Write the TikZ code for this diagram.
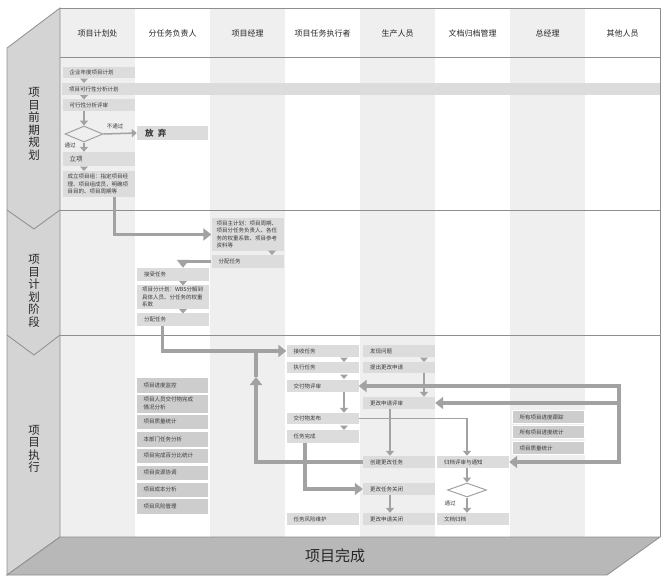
\documentclass[tikz,border=0pt]{standalone}
\usepackage{fontspec}
\setmainfont{Noto Sans CJK SC}
\usetikzlibrary{arrows.meta,shapes.geometric}
\definecolor{colgray}{HTML}{EFEFEF}
\definecolor{boxgray}{HTML}{DCDCDC}
\definecolor{listgray}{HTML}{CDCDCD}
\definecolor{sidegray}{HTML}{D4D4D4}
\definecolor{basegray}{HTML}{B8B8B8}
\definecolor{rulegray}{HTML}{8E8E8E}
\definecolor{flowgray}{HTML}{A2A2A2}
\definecolor{txtgray}{HTML}{3A3A3A}
\tikzset{
  box/.style={fill=boxgray, text width=58pt, inner xsep=7pt, inner ysep=1pt, align=left,
    font=\fontsize{5.5}{7.5}\selectfont, text=txtgray},
  widebox/.style={box, text width=62pt, inner xsep=5pt},
  listbox/.style={box, fill=listgray, draw=white, line width=0.8pt},
  thin/.style={draw=flowgray, line width=1.5pt, -{Triangle[width=8pt,length=5pt]}},
  thick/.style={draw=flowgray, line width=3.5pt, -{Triangle[width=12pt,length=8pt]}},
  decision/.style={diamond, draw=flowgray, line width=1pt, minimum width=38pt, minimum height=16pt, inner sep=0pt},
  phase/.style={align=center, font=\fontsize{11.5}{12.5}\selectfont, text=black!85},
  head/.style={font=\fontsize{8}{10}\selectfont, text=black!85},
  tiny/.style={font=\fontsize{5.5}{7}\selectfont, text=txtgray},
}
\begin{document}
\begin{tikzpicture}[x=1pt,y=-1pt]
\useasboundingbox (0,0) rectangle (670,584);
% lanes and frame
\foreach \cx in {60,210,360,510} {\fill[colgray] (\cx,8) rectangle ++(75,529);}
\draw[rulegray, line width=0.8pt] (60,8) -- (660,8) -- (660,537);
\foreach \ly in {57,210,335} {\draw[rulegray, line width=0.8pt] (60,\ly) -- (660,\ly);}
\filldraw[fill=sidegray, draw=rulegray, line width=0.8pt] (60,8) -- (7,48) -- (7,575) -- (60,537) -- cycle;
\filldraw[fill=basegray, draw=rulegray, line width=0.8pt] (60,537) -- (660,537) -- (607,575) -- (7,575) -- cycle;
\draw[rulegray, line width=0.8pt] (7,210) -- (34,229) -- (60,210);
\draw[rulegray, line width=0.8pt] (7,335) -- (34,355) -- (60,335);
\foreach \i/\t in {1/项目计划处, 2/分任务负责人, 3/项目经理, 4/项目任务执行者, 5/生产人员, 6/文档归档管理, 7/总经理, 8/其他人员}
  {\node[head] (h\i) at (22.5+75*\i,33) {\t};}
\node[phase] (ph1) at (34,124) {项\\目\\前\\期\\规\\划};
\node[phase] (ph2) at (34,291) {项\\目\\计\\划\\阶\\段};
\node[phase] (ph3) at (34,449) {项\\目\\执\\行};
\node[font=\fontsize{15}{16}\selectfont, text=black!85] (finish) at (335,556) {项目完成};
% early planning
\node[box, minimum height=11pt] (annual) at (98.5,72.5) {企业年度项目计划};
\node[box, text width=584pt, minimum height=12pt] (feas) at (361,89) {项目可行性分析计划};
\node[box, minimum height=12pt] (review) at (98.5,105) {可行性分析评审};
\node[decision] (dec1) at (84,134) {};
\node[box, text width=55pt, inner xsep=8pt, minimum height=14pt, font=\fontsize{8.5}{9}\selectfont] (giveup) at (172.5,133) {\textbf{放\enspace 弃}};
\node[box, minimum height=14pt, font=\fontsize{6.5}{7.5}\selectfont] (setup) at (98.5,159) {立项};
\node[widebox, minimum height=26pt] (team) at (98.5,184) {成立项目组：指定项目经\\理、项目组成员，明确项\\目目的、项目周期等};
\node[tiny] (nopass) at (115,126) {不通过};
\node[tiny] (pass1) at (70,145) {通过};
% planning
\node[widebox, minimum height=33pt] (master) at (247.5,234.5) {项目主计划：项目周期、\\项目分任务负责人、各任\\务的权重系数、项目参考\\资料等};
\node[box, minimum height=13pt] (assignA) at (247.5,261.5) {分配任务};
\node[box, minimum height=13pt] (accept) at (173,274.5) {接受任务};
\node[widebox, minimum height=24pt] (subplan) at (173,297) {项目分计划：WBS分解到\\具体人员、分任务的权重\\系数};
\node[box, minimum height=13pt] (assignB) at (173,319.5) {分配任务};
% execution
\node[box, minimum height=12pt] (recv) at (322.5,351) {接收任务};
\node[box, minimum height=11pt] (exec) at (322.5,367.5) {执行任务};
\node[box, minimum height=12pt] (dreview) at (322.5,386) {交付物评审};
\node[box, minimum height=11pt] (dpub) at (322.5,418.5) {交付物发布};
\node[box, minimum height=13pt] (done) at (322.5,436.5) {任务完成};
\node[box, minimum height=12pt] (riskm) at (322.5,519) {任务风险维护};
\node[box, minimum height=12pt] (found) at (399,351) {发现问题};
\node[box, minimum height=11pt] (chreq) at (399,367.5) {提出更改申请};
\node[box, minimum height=12pt] (creview) at (399,403) {更改申请评审};
\node[box, minimum height=12pt] (create) at (399,462) {创建更改任务};
\node[box, minimum height=12pt] (chclose) at (399,489) {更改任务关闭};
\node[box, minimum height=12pt] (reqclose) at (399,519) {更改申请关闭};
\node[box, minimum height=12pt] (arcrev) at (473,462) {归档评审与通知};
\node[decision, minimum width=39pt, minimum height=14pt] (dec2) at (467,490) {};
\node[tiny] (pass2) at (450,503) {通过};
\node[box, minimum height=12pt] (arcdoc) at (473,519) {文档归档};
\node[listbox, minimum height=13pt] (track) at (548.5,417) {所有项目进度跟踪};
\node[listbox, minimum height=13pt] (allstat) at (548.5,432) {所有项目进度统计};
\node[listbox, minimum height=13pt] (gmqual) at (548.5,448) {项目质量统计};
\foreach \nm/\cy/\h/\txt in {mon/385/16/项目进度监控, ana/403.5/19/{项目人员交付物完成\\情况分析}, qual/421.5/15/项目质量统计, dept/439/16/本部门任务分析, pct/455.5/15/项目完成百分比统计, res/472.5/15/项目资源协调, cost/489.5/15/项目成本分析, riskp/506/16/项目风险管理}
  {\node[listbox, minimum height=\h pt] (\nm) at (172.5,\cy) {\txt};}
% small step marks
\foreach \tx/\ty in {84/80.5, 84/97, 84/168.5, 272/252.5, 183/283, 183/311, 344/359.5, 344/376.5, 344/427.5, 424/359.5}
  {\fill[flowgray] (\tx-4,\ty-2) -- (\tx+4,\ty-2) -- (\tx,\ty+2.5) -- cycle;}
% flow
\draw[thin] (dec1.north |- review.south) -- (dec1.north);
\draw[thin] (dec1.east) -- (giveup.west);
\draw[thin] (dec1.south) -- (dec1.south |- setup.north);
\draw[thick] ([xshift=16pt]team.south) |- (master.west);
\draw[thick] (assignA.west) -| ([xshift=10pt]accept.north);
\draw[thick] ([xshift=-10.5pt]assignB.south) |- (recv.west);
\coordinate (loopup) at (256,377);
\draw[thick] (create.west) -| (loopup);
\draw[flowgray, line width=3.5pt] (loopup) -- (loopup |- recv.west);
\draw[thick] ([xshift=-17.5pt]done.south) |- (chclose.west);
\draw[thin] ([xshift=21.5pt]dreview.south) -- ([xshift=21.5pt]dpub.north);
\draw[thin] ([xshift=25pt]chreq.south) -- ([xshift=25pt]creview.north);
\draw[thin] ([xshift=-9pt]creview.south) -- ([xshift=-9pt]create.north);
\draw[thin] ([xshift=-9pt]chclose.south) -- ([xshift=-9pt]reqclose.north);
\draw[thin] (dpub.east) -| (dec2.north |- arcrev.north);
\draw[thin] (dec2.north |- arcrev.south) -- (dec2.north);
\draw[thin] (dec2.south) -- (dec2.south |- arcdoc.north);
\coordinate (bus) at (619,420);
\draw[thick, {Triangle[width=12pt,length=8pt]}-{Triangle[width=12pt,length=8pt]}] (dreview.east) -| (bus |- arcrev.east) -- (arcrev.east);
\draw[thick] (bus |- creview.east) -- (creview.east);
\end{tikzpicture}
\end{document}
